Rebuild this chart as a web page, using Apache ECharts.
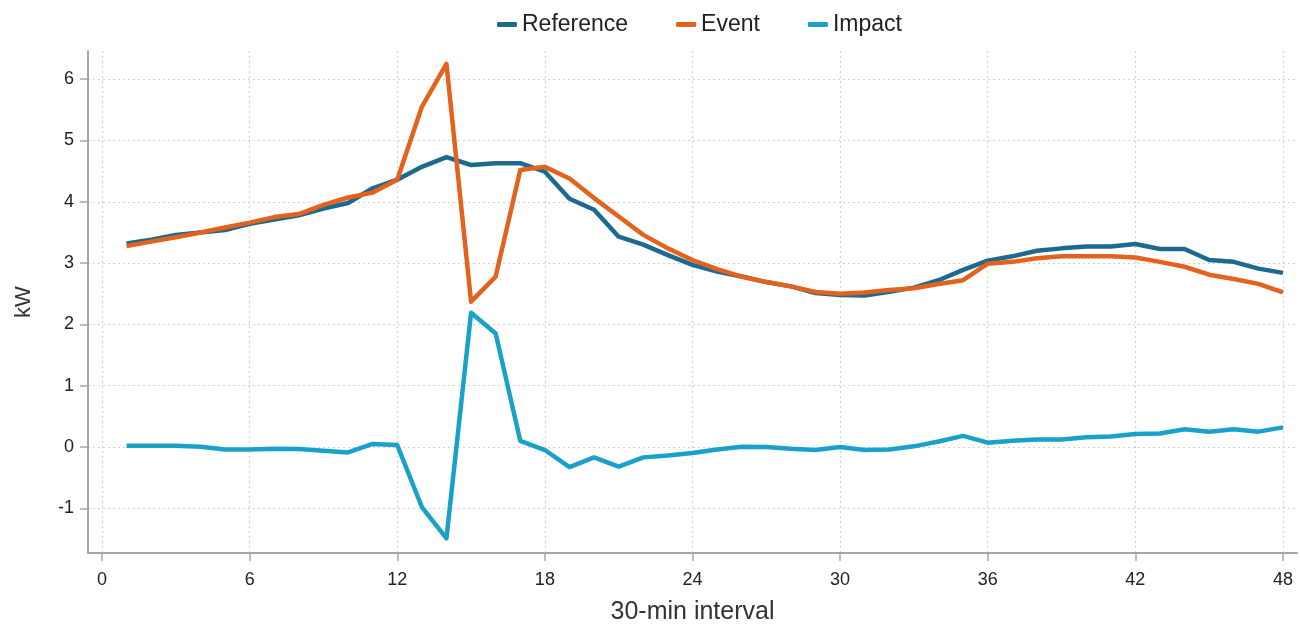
<!DOCTYPE html>
<html>
<head>
<meta charset="utf-8">
<script src="https://cdn.jsdelivr.net/npm/echarts@6/dist/echarts.min.js"></script>
<style>
  html, body { margin: 0; padding: 0; background: #fff; }
  #chart { width: 1300px; height: 626px; }
</style>
</head>
<body>
<div id="chart"></div>
<script>
// 30-min intervals 1..48
const intervals = [1, 2, 3, 4, 5, 6, 7, 8, 9, 10, 11, 12, 13, 14, 15, 16, 17, 18, 19, 20, 21, 22, 23, 24,
  25, 26, 27, 28, 29, 30, 31, 32, 33, 34, 35, 36, 37, 38, 39, 40, 41, 42, 43, 44, 45, 46, 47, 48];

const reference = [3.32, 3.38, 3.46, 3.50, 3.54, 3.64, 3.71, 3.78, 3.89, 3.98, 4.22, 4.36,
  4.57, 4.73, 4.60, 4.63, 4.63, 4.49, 4.05, 3.87, 3.43, 3.30, 3.13, 2.97,
  2.86, 2.78, 2.69, 2.62, 2.51, 2.48, 2.47, 2.53, 2.60, 2.72, 2.89, 3.04,
  3.11, 3.20, 3.24, 3.27, 3.27, 3.31, 3.23, 3.23, 3.05, 3.02, 2.91, 2.84];

const event = [3.28, 3.35, 3.42, 3.50, 3.58, 3.66, 3.75, 3.80, 3.95, 4.07, 4.15, 4.36,
  5.55, 6.25, 2.37, 2.78, 4.52, 4.57, 4.38, 4.06, 3.76, 3.46, 3.24, 3.05,
  2.90, 2.78, 2.69, 2.62, 2.53, 2.50, 2.52, 2.56, 2.59, 2.66, 2.72, 2.99,
  3.02, 3.08, 3.11, 3.11, 3.11, 3.09, 3.02, 2.94, 2.81, 2.74, 2.66, 2.52];

const impact = [0.02, 0.02, 0.02, 0.005, -0.04, -0.04, -0.03, -0.035, -0.06, -0.09, 0.05, 0.03,
  -0.98, -1.49, 2.19, 1.85, 0.10, -0.05, -0.33, -0.17, -0.32, -0.17, -0.14, -0.10,
  -0.04, 0.005, 0.0, -0.03, -0.05, 0.0, -0.05, -0.04, 0.01, 0.09, 0.18, 0.07,
  0.10, 0.12, 0.12, 0.16, 0.17, 0.21, 0.22, 0.29, 0.25, 0.29, 0.25, 0.32];

const xTicks = [0, 6, 12, 18, 24, 30, 36, 42, 48];
const yTicks = [-1, 0, 1, 2, 3, 4, 5, 6];

const seriesNames = ["Reference", "Event", "Impact"];
const seriesColors = ["#1c6a8f", "#e2621e", "#1aa1c9"];

const chart = echarts.init(document.getElementById("chart"));

const pairs = (vals) => intervals.map((x, i) => [x, vals[i]]);
const font = "Liberation Sans, Arial, sans-serif";

const gridLine = {
  show: true,
  lineStyle: { color: "#d2d2d2", width: 1.2, type: [2, 3] },
};

const option = {
  animation: false,
  textStyle: { fontFamily: font },
  legend: {
    top: 8,
    left: 492,
    itemWidth: 20,
    itemHeight: 5,
    itemGap: 48,
    icon: "roundRect",
    textStyle: { fontSize: 23, color: "#222", fontFamily: font },
    data: seriesNames,
  },
  grid: {
    left: 88,
    right: 3,
    top: 51,
    bottom: 73,
    containLabel: false,
    outerBoundsMode: "none",
  },
  xAxis: {
    type: "value",
    min: -0.57,
    max: 48.57,
    name: "30-min interval",
    nameLocation: "middle",
    nameGap: 47,
    nameTextStyle: { fontSize: 25, color: "#333" },
    axisLine: { show: true, onZero: false, lineStyle: { color: "#a6a6a6", width: 2 } },
    axisTick: { show: true, length: 8, customValues: xTicks, lineStyle: { color: "#a6a6a6", width: 1.5 } },
    axisLabel: { customValues: xTicks, fontSize: 18, color: "#222", margin: 18 },
    splitLine: gridLine,
  },
  yAxis: {
    type: "value",
    min: -1.73,
    max: 6.46,
    name: "kW",
    nameLocation: "middle",
    nameGap: 53,
    nameTextStyle: { fontSize: 22, color: "#333" },
    axisLine: { show: true, onZero: false, lineStyle: { color: "#a6a6a6", width: 2 } },
    axisTick: { show: true, length: 8, customValues: yTicks, lineStyle: { color: "#a6a6a6", width: 1.5 } },
    axisLabel: { customValues: yTicks, fontSize: 18, color: "#222", margin: 14 },
    splitLine: gridLine,
  },
  series: [reference, event, impact].map((vals, i) => ({
    name: seriesNames[i],
    type: "line",
    data: pairs(vals),
    showSymbol: false,
    symbol: "none",
    color: seriesColors[i],
    lineStyle: { width: 4.5, color: seriesColors[i], join: "round" },
  })),
};

chart.setOption(option);
</script>
</body>
</html>
